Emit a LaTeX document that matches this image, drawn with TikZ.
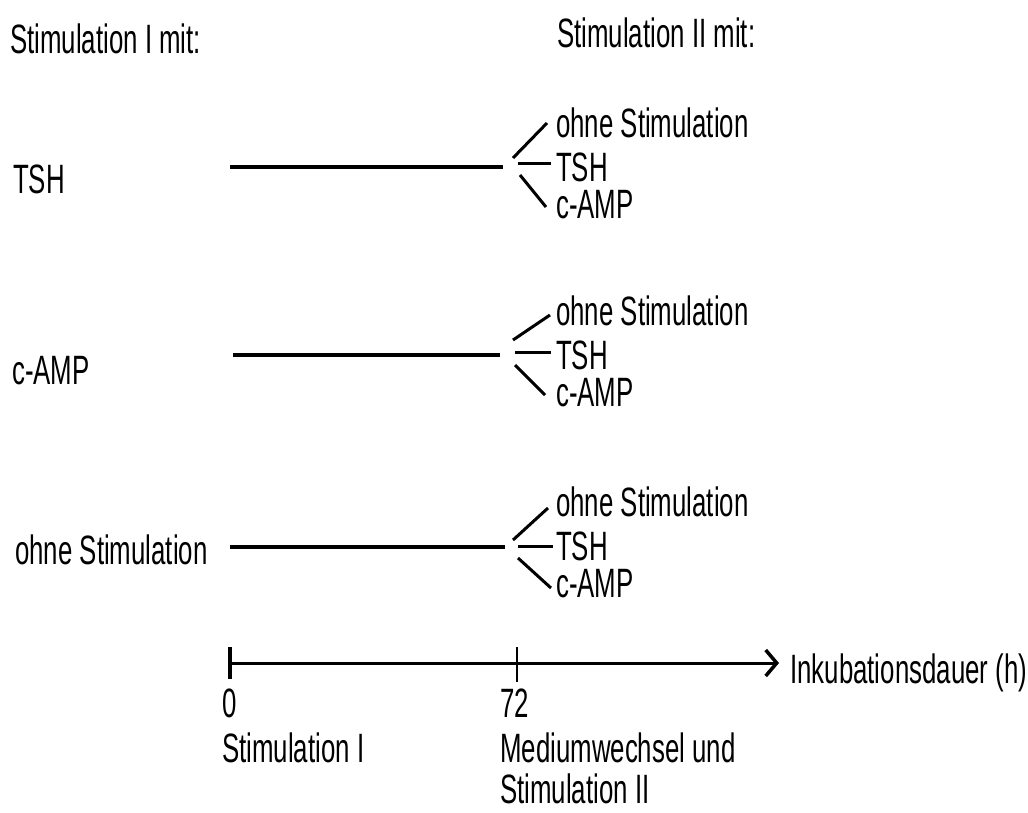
\documentclass[tikz,border=0pt]{standalone}
\usepackage{fontspec}
\setmainfont{Liberation Sans}[FakeStretch=0.63]
\usetikzlibrary{arrows.meta}
\begin{document}
\begin{tikzpicture}[x=1pt,y=-1pt,
  lbl/.style={anchor=base west,inner sep=0pt,font=\fontsize{41}{41}\selectfont},
  bar/.style={line width=3.5pt},
  twig/.style={line width=3pt},
  axisline/.style={line width=3pt}]
\useasboundingbox (0,0) rectangle (1028,812);
% headers
\node[lbl] (h1) at (10,53) {Stimulation I mit:};
\node[lbl] (h2) at (557,47) {Stimulation II mit:};
% left labels
\node[lbl] (l1) at (13,193) {TSH};
\node[lbl] (l2) at (12,384) {c-AMP};
\node[lbl] (l3) at (15,564) {ohne Stimulation};
% group lines
\coordinate (a1) at (230,167); \coordinate (b1) at (503,167);
\coordinate (a2) at (233,355); \coordinate (b2) at (500,355);
\coordinate (a3) at (230,547); \coordinate (b3) at (505,547);
\draw[bar] (a1) -- (b1);
\draw[bar] (a2) -- (b2);
\draw[bar] (a3) -- (b3);
% right labels group 1
\node[lbl] (r1o) at (556,137) {ohne Stimulation};
\node[lbl] (r1t) at (556,181) {TSH};
\node[lbl] (r1c) at (556,218) {c-AMP};
% right labels group 2
\node[lbl] (r2o) at (556,325) {ohne Stimulation};
\node[lbl] (r2t) at (556,369) {TSH};
\node[lbl] (r2c) at (556,406) {c-AMP};
% right labels group 3
\node[lbl] (r3o) at (556,516) {ohne Stimulation};
\node[lbl] (r3t) at (556,560) {TSH};
\node[lbl] (r3c) at (556,597) {c-AMP};
% branches group 1
\coordinate (u1s) at (513,158); \coordinate (u1e) at (547,123);
\coordinate (m1s) at (518,163); \coordinate (m1e) at (551,163);
\coordinate (d1s) at (520,175); \coordinate (d1e) at (546,207);
\draw[twig] (u1s) -- (u1e);
\draw[twig] (m1s) -- (m1e);
\draw[twig] (d1s) -- (d1e);
% branches group 2
\coordinate (u2s) at (513,340); \coordinate (u2e) at (550,315);
\coordinate (m2s) at (515,352); \coordinate (m2e) at (551,352);
\coordinate (d2s) at (515,365); \coordinate (d2e) at (545,395);
\draw[twig] (u2s) -- (u2e);
\draw[twig] (m2s) -- (m2e);
\draw[twig] (d2s) -- (d2e);
% branches group 3
\coordinate (u3s) at (513,540); \coordinate (u3e) at (548,508);
\coordinate (m3s) at (518,546); \coordinate (m3e) at (553,546);
\coordinate (d3s) at (518,558); \coordinate (d3e) at (551,588);
\draw[twig] (u3s) -- (u3e);
\draw[twig] (m3s) -- (m3e);
\draw[twig] (d3s) -- (d3e);
% time axis
\coordinate (x0) at (228,663);
\coordinate (xt) at (779,663);
\draw[axisline,{Bar[width=32pt,line width=3.5pt]}-{Straight Barb[length=11pt,width=26pt,line width=3.5pt]}] (x0) -- (xt);
\coordinate (t1) at (517,647); \coordinate (t2) at (517,682);
\draw[line width=2.5pt] (t1) -- (t2);
\node[lbl] (ax) at (790,683) {Inkubationsdauer (h)};
\node[lbl] (z0) at (222,717) {0};
\node[lbl] (z72) at (500,717) {72};
\node[lbl] (s1) at (222,762) {Stimulation I};
\node[lbl] (s2a) at (500,762) {Mediumwechsel und};
\node[lbl] (s2b) at (500,803) {Stimulation II};
\end{tikzpicture}
\end{document}
